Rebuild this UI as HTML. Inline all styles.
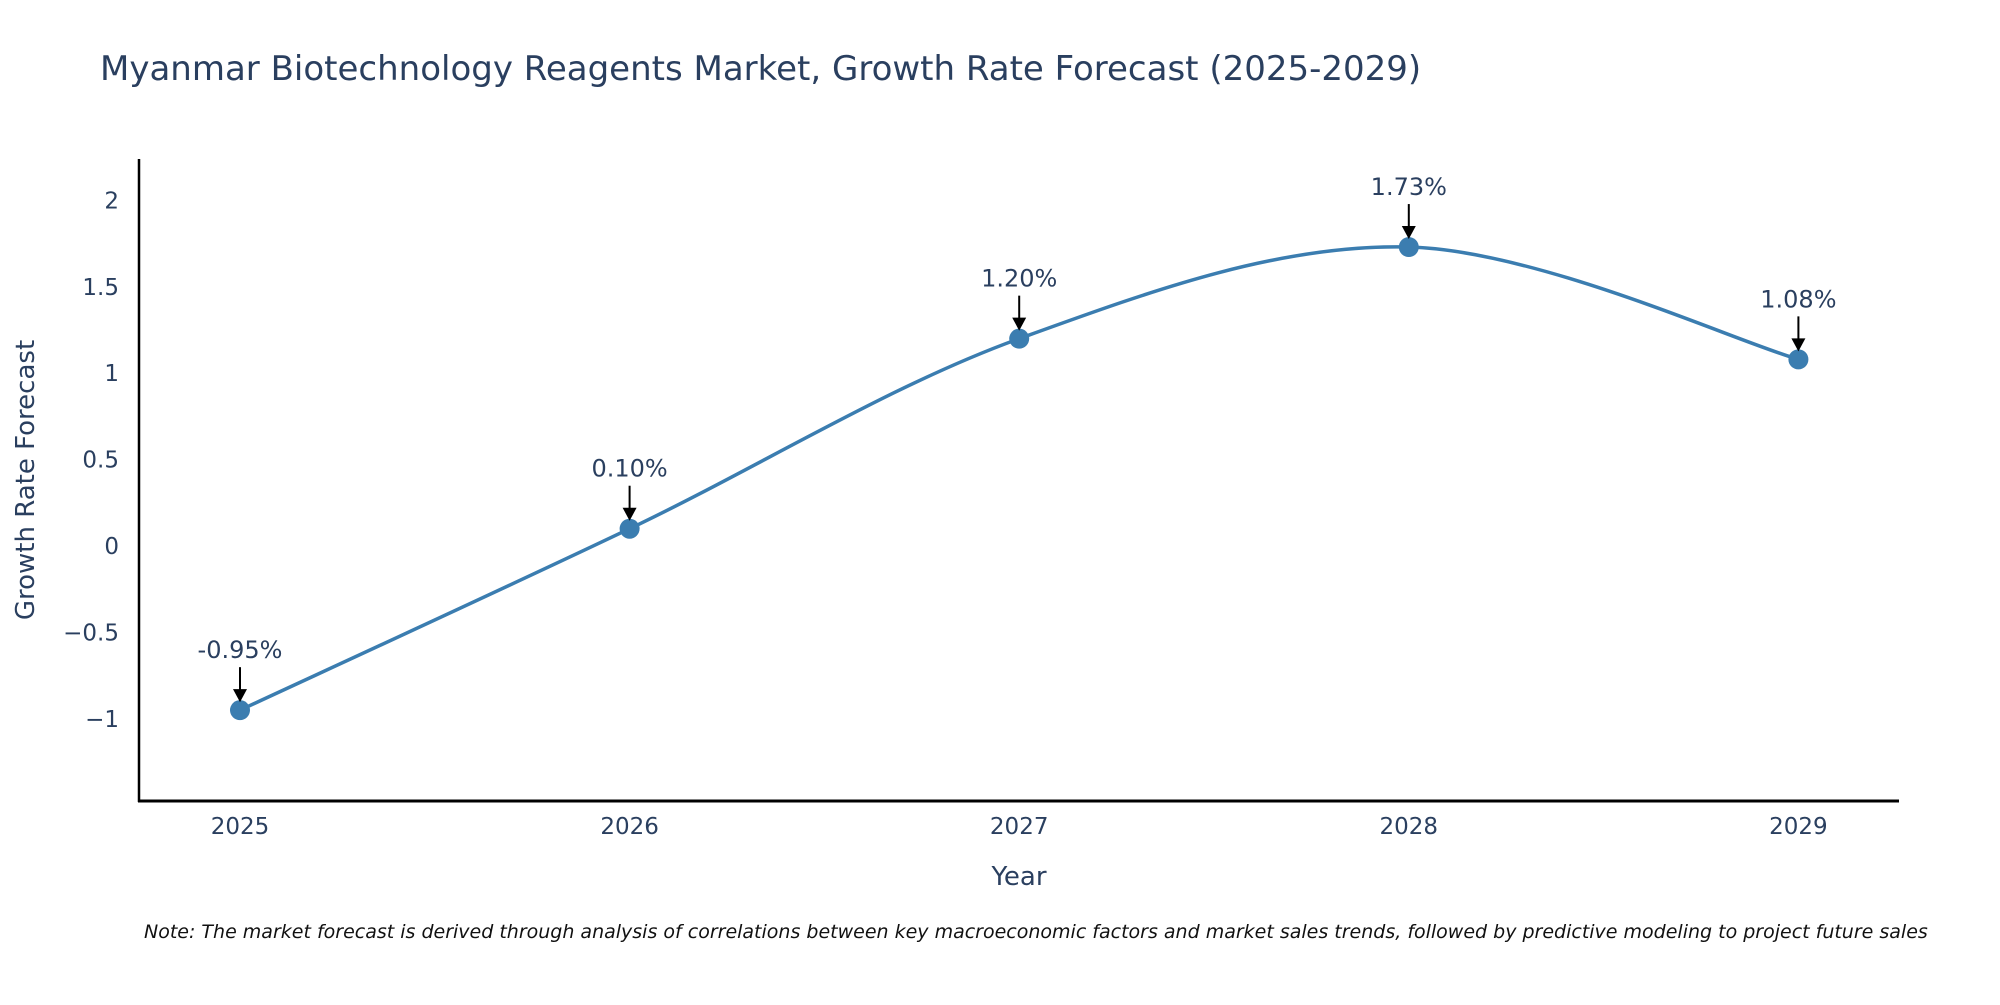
<!DOCTYPE html>
<html><head><meta charset="utf-8"><style>
body{margin:0;background:#fff;}
svg text{font-family:"DejaVu Sans","Liberation Sans",sans-serif;fill:#2a3f5f;}
</style></head><body>
<svg id="chart" width="2000" height="1000" xmlns="http://www.w3.org/2000/svg">
<text x="100" y="80" font-size="34">Myanmar Biotechnology Reagents Market, Growth Rate Forecast (2025-2029)</text>
<g id="grid"></g>
<g id="series"></g>
<line x1="139" y1="159" x2="139" y2="802" stroke="#000" stroke-width="2.5"/>
<line x1="138" y1="801" x2="1899" y2="801" stroke="#000" stroke-width="3"/>
<text x="1019" y="885" font-size="26" text-anchor="middle">Year</text>
<text transform="translate(34,480) rotate(-90)" font-size="26" text-anchor="middle">Growth Rate Forecast</text>
<text x="144" y="938" font-size="19" font-style="italic" style="fill:#111">Note: The market forecast is derived through analysis of correlations between key macroeconomic factors and market sales trends, followed by predictive modeling to project future sales</text>
</svg>
<script>
const years=[2025,2026,2027,2028,2029];
const growth=[-0.95,0.10,1.20,1.73,1.08];
const labels=["-0.95%","0.10%","1.20%","1.73%","1.08%"];
const yTicks=[-1,-0.5,0,0.5,1,1.5,2];
const yTickLabels=["−1","−0.5","0","0.5","1","1.5","2"];
const NS="http://www.w3.org/2000/svg";
const xs=v=>240+(v-2025)*389.6;
const ys=v=>546-v*172.8;
function mk(t,a,p){const e=document.createElementNS(NS,t);for(const k in a)e.setAttribute(k,a[k]);(p||document.getElementById('series')).appendChild(e);return e;}
const grid=document.getElementById('grid');
yTicks.forEach((t,i)=>{const e=mk('text',{x:119,y:ys(t)+8,'font-size':23,'text-anchor':'end'},grid);e.textContent=yTickLabels[i];

});
years.forEach(y=>{const e=mk('text',{x:xs(y),y:834,'font-size':23,'text-anchor':'middle'},grid);e.textContent=y;

});
const P=years.map((y,i)=>[xs(y),ys(growth[i])]);
let d='M'+P[0][0]+','+P[0][1];const s=0.5/3*2;
for(let i=0;i<P.length-1;i++){const p0=P[Math.max(i-1,0)],p1=P[i],p2=P[i+1],p3=P[Math.min(i+2,P.length-1)];
const c1=[p1[0]+(p2[0]-p0[0])*s/2,p1[1]+(p2[1]-p0[1])*s/2],c2=[p2[0]-(p3[0]-p1[0])*s/2,p2[1]-(p3[1]-p1[1])*s/2];
d+=` C${c1[0]},${c1[1]} ${c2[0]},${c2[1]} ${p2[0]},${p2[1]}`;}
const line=mk('path',{d:d,fill:'none',stroke:'#3b7db0','stroke-width':3.5});


P.forEach((p,i)=>{const c=mk('circle',{cx:p[0],cy:p[1],r:10,fill:'#3b7db0'});


const a=mk('line',{x1:p[0],y1:p[1]-43,x2:p[0],y2:p[1]-20,stroke:'#000','stroke-width':2});


const h=mk('polygon',{points:`${p[0]-7},${p[1]-21} ${p[0]+7},${p[1]-21} ${p[0]},${p[1]-8}`,fill:'#000'});


const t=mk('text',{x:p[0],y:p[1]-52,'font-size':24,'text-anchor':'middle'});t.textContent=labels[i];

});
</script>
</body></html>
